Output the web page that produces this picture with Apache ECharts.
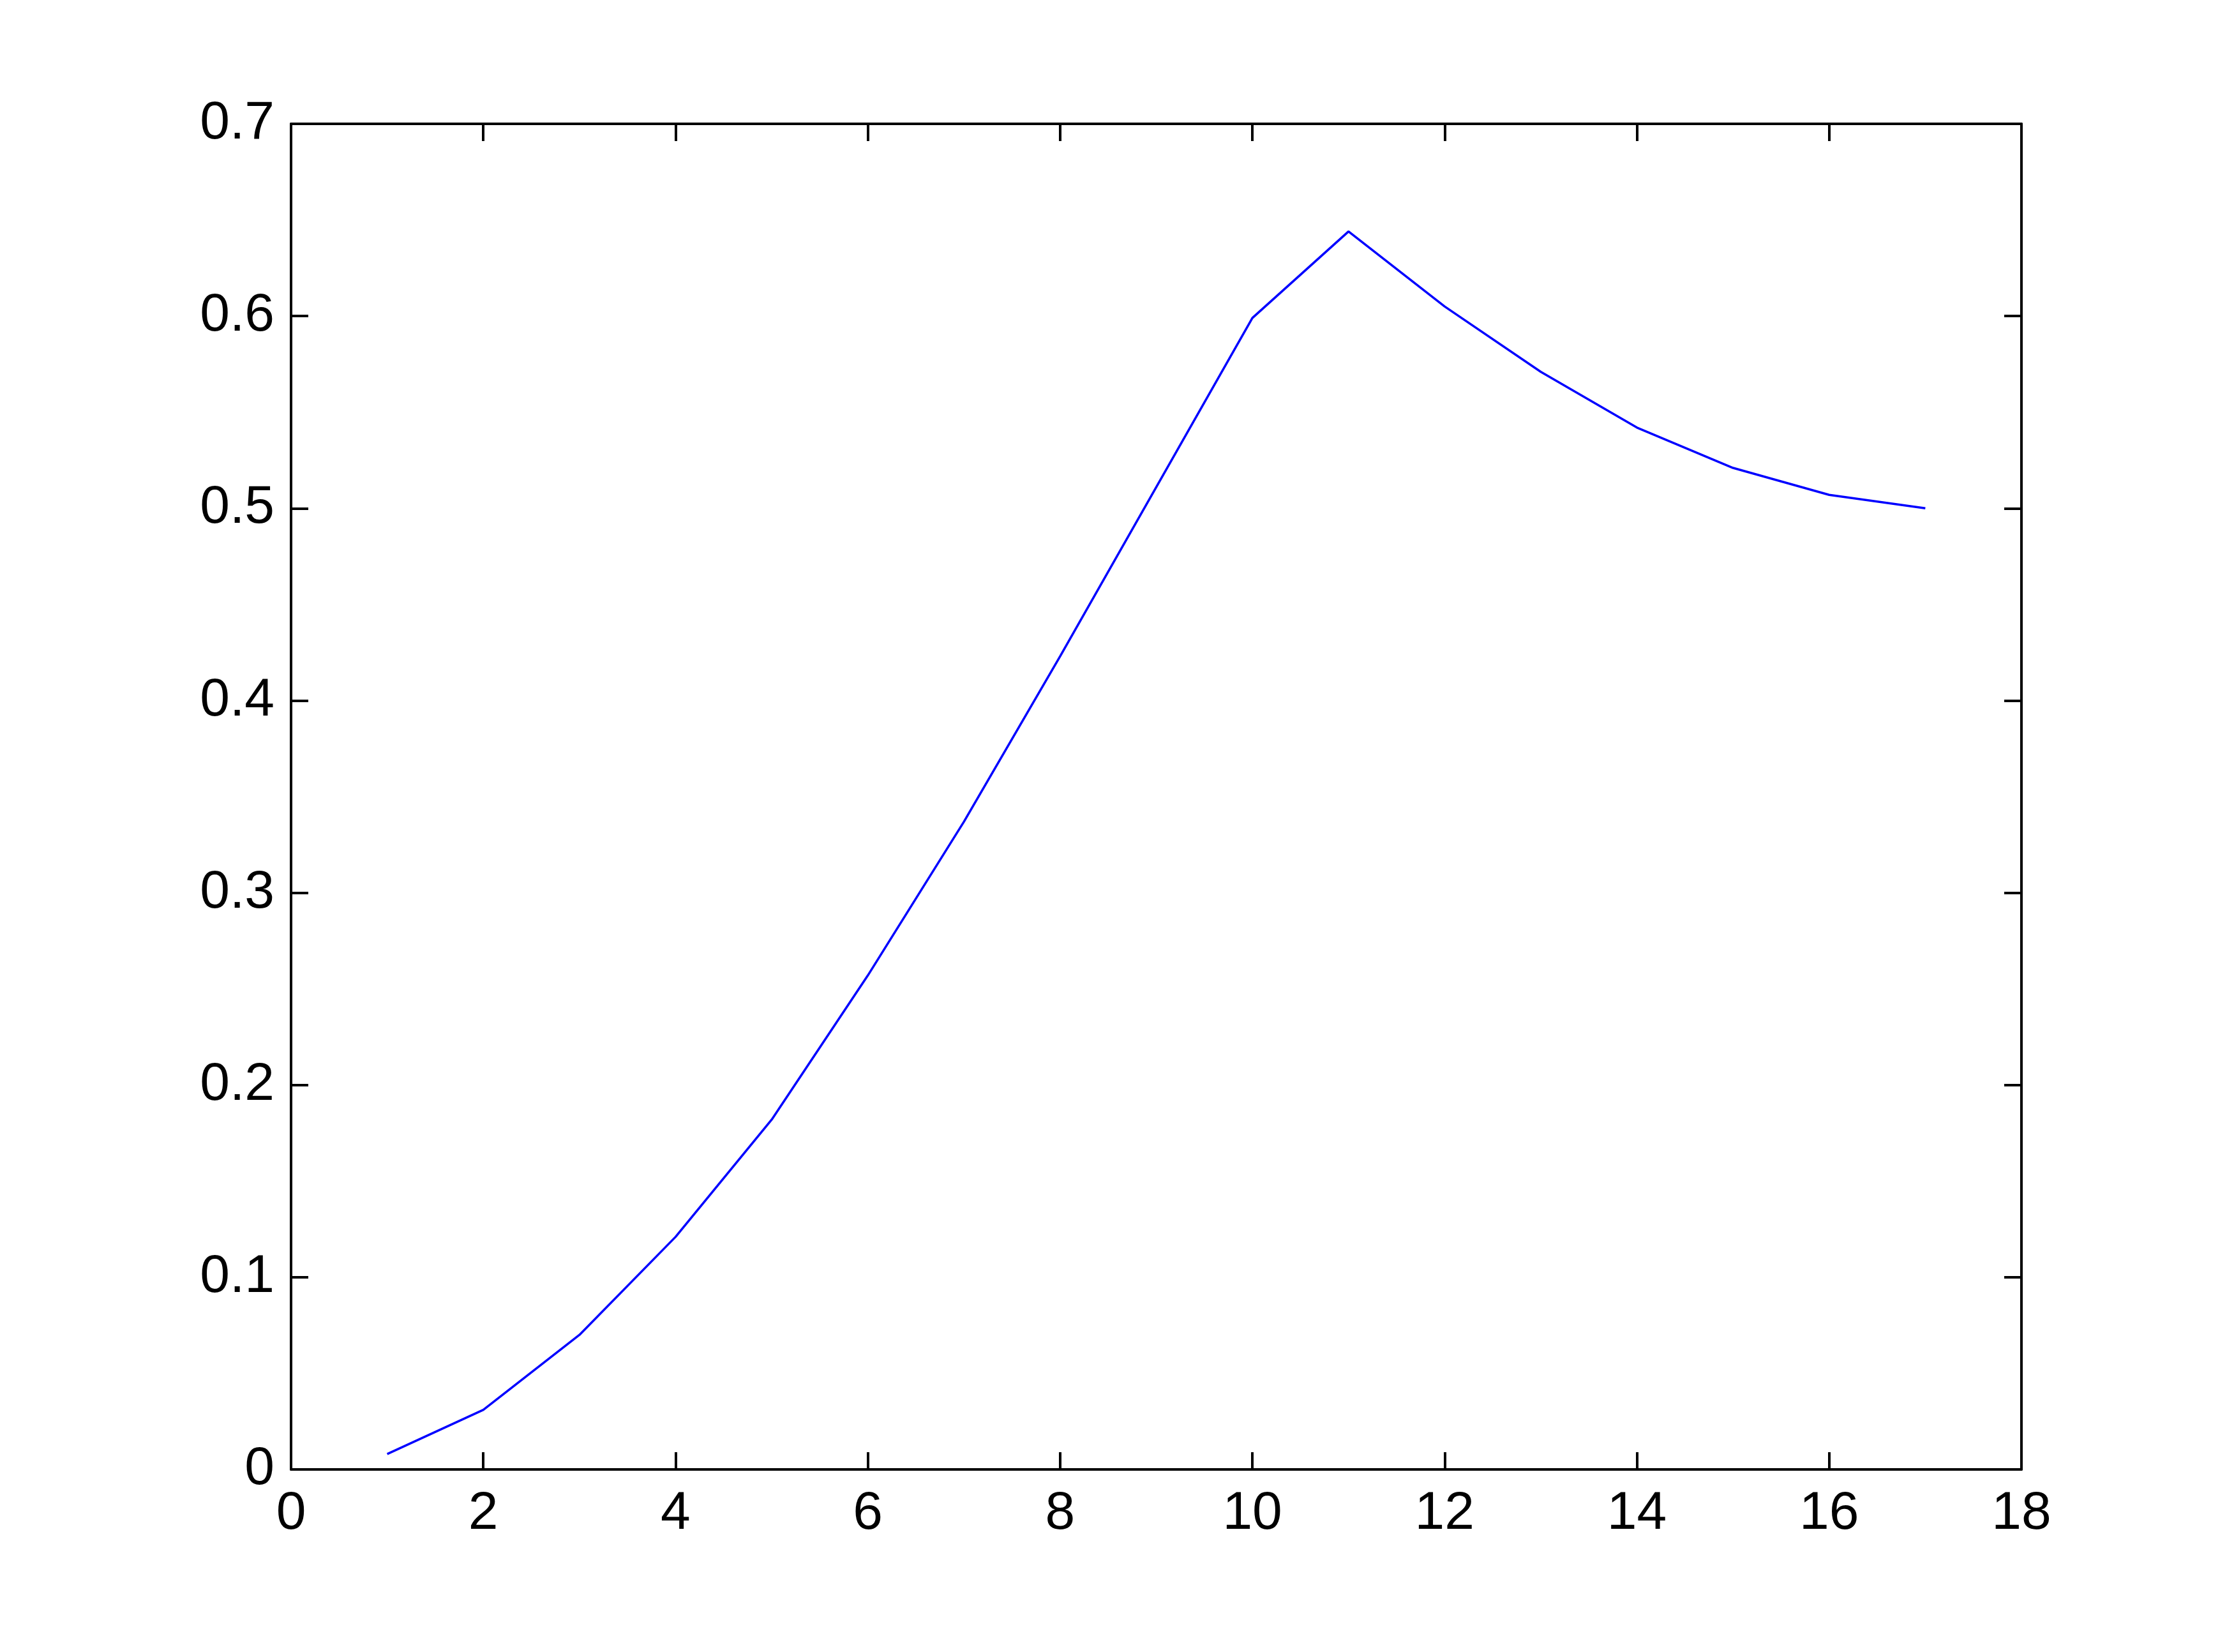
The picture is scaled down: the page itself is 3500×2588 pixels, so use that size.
<!DOCTYPE html>
<html>
<head>
<meta charset="utf-8">
<script src="https://cdn.jsdelivr.net/npm/echarts@6/dist/echarts.min.js"></script>
<style>
html,body{margin:0;padding:0;background:#fff;}
#chart{width:3500px;height:2588px;}
</style>
</head>
<body>
<div id="chart"></div>
<script>
const xValues = [1,2,3,4,5,6,7,8,9,10,11,12,13,14,15,16,17];
const yValues = [0.008,0.031,0.070,0.121,0.182,0.257,0.337,0.423,0.511,0.599,0.644,0.605,0.571,0.542,0.521,0.507,0.500];
const xTicks = [0,2,4,6,8,10,12,14,16,18];
const yTicks = [0,0.1,0.2,0.3,0.4,0.5,0.6,0.7];

const font = '"Liberation Sans", Arial, sans-serif';
const axisLine = {show:true, onZero:false, lineStyle:{color:'#000', width:4}};
const axisTick = {show:true, inside:true, length:27, lineStyle:{color:'#000', width:4}};

const chart = echarts.init(document.getElementById('chart'), null, {renderer:'canvas'});
chart.setOption({
  animation:false,
  backgroundColor:'#fff',
  grid:{left:456, right:333, top:194, bottom:286, containLabel:false},
  xAxis:[
    {type:'value', position:'bottom', min:xTicks[0], max:xTicks[xTicks.length-1], interval:2,
     axisLine, axisTick, splitLine:{show:false},
     axisLabel:{show:true, color:'#000', fontSize:84, fontFamily:font, margin:28}},
    {type:'value', position:'top', min:xTicks[0], max:xTicks[xTicks.length-1], interval:2,
     axisLine, axisTick, splitLine:{show:false}, axisLabel:{show:false}}
  ],
  yAxis:[
    {type:'value', position:'left', min:yTicks[0], max:yTicks[yTicks.length-1], interval:0.1,
     axisLine, axisTick, splitLine:{show:false},
     axisLabel:{show:true, color:'#000', fontSize:84, fontFamily:font, margin:26,
       formatter:(v)=> v===0 ? '0' : v.toFixed(1)}},
    {type:'value', position:'right', min:yTicks[0], max:yTicks[yTicks.length-1], interval:0.1,
     axisLine, axisTick, splitLine:{show:false}, axisLabel:{show:false}}
  ],
  series:[{
    type:'line',
    xAxisIndex:0,
    yAxisIndex:0,
    data:xValues.map((x,i)=>[x,yValues[i]]),
    showSymbol:false,
    symbol:'none',
    lineStyle:{color:'#0000ff', width:3.5},
    itemStyle:{color:'#0000ff'}
  }]
});
</script>
</body>
</html>
